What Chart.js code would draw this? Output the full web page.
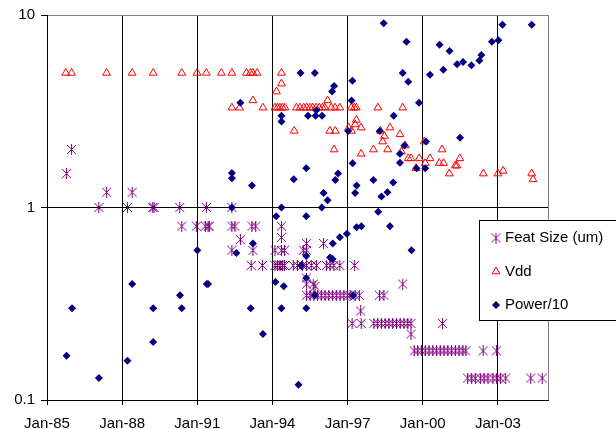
<!DOCTYPE html>
<html>
<head>
<meta charset="utf-8">
<script src="https://cdn.jsdelivr.net/npm/chart.js@4/dist/chart.umd.min.js"></script>
<style>
  body { margin: 0; background: #fff; }
  canvas { display: block; }
</style>
</head>
<body>
<canvas id="techChart" width="616" height="429"></canvas>
<script>
// x values are decimal years, y values on log axis
const xTicks = [1985, 1988, 1991, 1994, 1997, 2000, 2003];
const yTicks = [0.1, 1, 10];
const seriesNames = ["Feat Size (um)", "Vdd", "Power/10"];

const featX = [1985.78, 1985.98, 1987.07, 1987.38, 1988.21, 1988.40, 1989.22, 1989.27, 1990.30, 1990.38,
  1990.96, 1991.32, 1991.36, 1991.43, 1991.48, 1992.38, 1992.38, 1992.50, 1992.38, 1992.72,
  1993.15, 1993.18, 1993.22, 1993.33, 1993.60, 1994.10, 1994.10, 1994.20, 1994.30, 1994.36,
  1994.36, 1994.36, 1994.40, 1994.48, 1994.48, 1994.83, 1995.00, 1995.20, 1995.23, 1995.36,
  1995.36, 1995.36, 1995.36, 1995.36, 1995.36, 1995.50, 1995.55, 1995.63, 1995.65, 1995.70,
  1995.76, 1995.80, 1995.95, 1996.04, 1996.10, 1996.16, 1996.25, 1996.30, 1996.40, 1996.45,
  1996.55, 1996.69, 1996.70, 1996.85, 1997.00, 1997.10, 1997.18, 1997.28, 1997.30, 1997.47,
  1997.52, 1997.54, 1998.05, 1998.20, 1998.27, 1998.35, 1998.45, 1998.50, 1998.65, 1998.80,
  1998.95, 1999.10, 1999.20, 1999.25, 1999.40, 1999.53, 1999.53, 1999.66, 1999.80, 1999.95,
  2000.10, 2000.25, 2000.40, 2000.55, 2000.70, 2000.79, 2000.85, 2001.00, 2001.15, 2001.30,
  2001.45, 2001.60, 2001.72, 2001.79, 2001.95, 2002.10, 2002.30, 2002.41, 2002.45, 2002.60,
  2002.80, 2002.94, 2002.95, 2003.10, 2003.31, 2004.31, 2004.77];
const featY = [1.5, 2.0, 1.0, 1.2, 1.0, 1.2, 1.0, 1.0, 1.0, 0.8,
  0.8, 0.8, 1.0, 0.8, 0.8, 1.0, 0.8, 0.8, 0.6, 0.68,
  0.5, 0.8, 0.6, 0.8, 0.5, 0.6, 0.5, 0.5, 0.5, 0.8,
  0.7, 0.6, 0.5, 0.6, 0.5, 0.5, 0.5, 0.5, 0.6, 0.65,
  0.6, 0.5, 0.43, 0.4, 0.35, 0.35, 0.5, 0.4, 0.35, 0.39,
  0.5, 0.35, 0.35, 0.65, 0.35, 0.5, 0.35, 0.5, 0.35, 0.5,
  0.35, 0.5, 0.35, 0.35, 0.35, 0.35, 0.25, 0.5, 0.35, 0.35,
  0.29, 0.25, 0.25, 0.25, 0.35, 0.25, 0.35, 0.25, 0.25, 0.25,
  0.25, 0.25, 0.4, 0.25, 0.25, 0.25, 0.22, 0.18, 0.18, 0.18,
  0.18, 0.18, 0.18, 0.18, 0.18, 0.25, 0.18, 0.18, 0.18, 0.18,
  0.18, 0.18, 0.18, 0.13, 0.13, 0.13, 0.13, 0.18, 0.13, 0.13,
  0.13, 0.18, 0.13, 0.13, 0.13, 0.13, 0.13];

const vddX = [1985.75, 1985.98, 1987.38, 1988.40, 1989.24, 1990.38, 1990.99, 1991.36, 1991.96, 1992.38,
  1992.96, 1993.12, 1993.22, 1993.39, 1994.36,
  1992.38, 1992.69, 1993.62, 1994.10, 1994.20, 1994.30, 1994.40, 1994.50, 1994.96, 1995.10,
  1995.25, 1995.37, 1995.50, 1995.61, 1995.74, 1995.87, 1996.00, 1996.09, 1996.35, 1996.50,
  1996.69, 1997.15, 1997.27, 1997.35, 1998.21, 1999.20,
  1993.22, 1994.16, 1994.36, 1994.87, 1996.20, 1996.29, 1996.46, 1996.51, 1997.04, 1997.16,
  1997.30, 1997.35, 1997.54, 1997.54, 1998.03, 1998.31, 1998.40, 1998.47, 1998.60, 1998.69,
  1999.09, 1999.15, 1999.30, 1999.42, 1999.53, 1999.73, 1999.86, 2000.06, 2000.10, 2000.29,
  2000.66, 2000.77, 2000.83, 2001.06, 2001.30, 2001.36, 2001.48, 2002.42, 2003.00, 2003.21,
  2004.35, 2004.40];
const vddY = [5, 5, 5, 5, 5, 5, 5, 5, 5, 5,
  5, 5, 5, 5, 5,
  3.3, 3.3, 3.3, 3.3, 3.3, 3.3, 3.3, 3.3, 3.3, 3.3,
  3.3, 3.3, 3.3, 3.3, 3.3, 3.3, 3.3, 3.3, 3.3, 3.3,
  3.3, 3.3, 3.3, 3.3, 3.3, 3.3,
  3.6, 4.0, 4.4, 2.5, 3.6, 2.5, 2.0, 2.5, 2.6, 2.5,
  2.7, 2.85, 2.6, 1.9, 2.0, 2.5, 2.2, 2.35, 2.0, 2.6,
  2.4, 1.95, 2.1, 1.8, 1.8, 1.6, 1.8, 2.2, 1.7, 1.8,
  1.7, 2.0, 1.7, 1.5, 1.65, 1.65, 1.8, 1.5, 1.5, 1.55,
  1.5, 1.4];

const powX = [1985.78, 1986.00, 1987.07, 1988.21, 1988.40, 1989.24, 1989.24, 1990.31, 1990.38, 1991.00,
  1991.38, 1991.43, 1992.38, 1992.38, 1992.38, 1992.56, 1992.72, 1993.13, 1993.18, 1993.22,
  1993.62, 1994.12, 1994.15, 1994.36, 1994.36, 1994.36, 1994.36, 1994.45, 1994.85, 1995.04,
  1995.12, 1995.16, 1995.35, 1995.35, 1995.35, 1995.35, 1995.35, 1995.42, 1995.69, 1995.69,
  1995.72, 1995.75, 1995.97, 1995.98, 1996.04, 1996.20, 1996.30, 1996.38, 1996.40, 1996.41,
  1996.46, 1996.51, 1996.62, 1996.69, 1996.97, 1997.02, 1997.16, 1997.19, 1997.20, 1997.22,
  1997.30, 1997.36, 1997.36, 1997.55, 1998.03, 1998.22, 1998.28, 1998.35, 1998.44, 1998.59,
  1998.69, 1998.82, 1998.84, 1999.09, 1999.09, 1999.20, 1999.27, 1999.35, 1999.42, 1999.55,
  1999.75, 1999.85, 2000.10, 2000.13, 2000.29, 2000.67, 2000.82, 2001.07, 2001.37, 2001.49,
  2001.61, 2001.94, 2002.26, 2002.34, 2002.76, 2003.02, 2003.18, 2004.35];
const powY = [0.17, 0.30, 0.13, 0.16, 0.40, 0.30, 0.20, 0.35, 0.30, 0.60,
  0.40, 0.40, 1.0, 1.51, 1.42, 0.58, 3.5, 0.30, 1.30, 0.65,
  0.22, 0.41, 0.9, 1.0, 3.0, 2.8, 0.30, 0.39, 1.40, 0.12,
  5.0, 0.50, 1.6, 0.9, 0.56, 0.43, 0.30, 3.0, 5.0, 0.35,
  3.0, 3.2, 1.0, 3.0, 1.19, 1.09, 0.55, 4.0, 0.54, 0.65,
  4.28, 1.39, 1.5, 0.70, 0.73, 2.5, 3.6, 4.56, 1.7, 0.35,
  1.19, 1.3, 0.79, 0.80, 1.39, 0.95, 2.5, 1.14, 9.05, 1.2,
  0.80, 1.35, 3.0, 1.71, 1.9, 5.0, 2.1, 7.26, 4.5, 0.60,
  1.6, 3.5, 1.6, 2.2, 4.9, 7.0, 5.2, 6.5, 5.55, 2.3,
  5.7, 5.48, 5.8, 6.2, 7.26, 7.4, 8.9, 8.9];

const FONT = "'Liberation Sans', Arial, sans-serif";

function toPoints(xs, ys) {
  return xs.map((x, i) => ({ x: x, y: ys[i] }));
}

// asterisk marker like the spreadsheet one: an X with a vertical bar
function starMarker(color) {
  const c = document.createElement("canvas");
  c.width = 11;
  c.height = 11;
  const g = c.getContext("2d");
  g.strokeStyle = color;
  g.lineWidth = 1;
  g.beginPath();
  g.moveTo(1, 1); g.lineTo(10, 10);
  g.moveTo(10, 1); g.lineTo(1, 10);
  g.moveTo(5.5, 0); g.lineTo(5.5, 11);
  g.stroke();
  return c;
}

const boxLegend = {
  id: "boxLegend",
  afterDraw(chart) {
    const c = chart.ctx;
    c.save();
    c.fillStyle = "#fff";
    c.fillRect(479.5, 220.5, 140, 100);
    c.strokeStyle = "#000";
    c.lineWidth = 1;
    c.strokeRect(479.5, 220.5, 140, 100);
    chart.data.datasets.forEach(function (ds, i) {
      const y = 238 + i * 33.5;
      c.fillStyle = ds.backgroundColor;
      c.strokeStyle = ds.borderColor;
      c.lineWidth = ds.borderWidth;
      Chart.helpers.drawPoint(c, {
        pointStyle: ds.pointStyle,
        radius: ds.pointRadius,
        borderWidth: ds.borderWidth,
        rotation: 0
      }, 496, y);
      c.fillStyle = "#000";
      c.font = "15px " + FONT;
      c.textBaseline = "middle";
      c.fillText(seriesNames[i], 505, y);
    });
    c.restore();
  }
};

new Chart("techChart", {
  type: "scatter",
  data: {
    datasets: [
      {
        label: seriesNames[0],
        data: toPoints(featX, featY),
        pointStyle: starMarker("#800080"),
        pointRadius: 5,
        borderWidth: 1,
        borderColor: "#800080",
        backgroundColor: "#800080",
        order: 3
      },
      {
        label: seriesNames[1],
        data: toPoints(vddX, vddY),
        pointStyle: "triangle",
        pointRadius: 4.5,
        borderWidth: 1,
        borderColor: "#ff0000",
        backgroundColor: "rgba(0,0,0,0)",
        order: 2
      },
      {
        label: seriesNames[2],
        data: toPoints(powX, powY),
        pointStyle: "rectRot",
        pointRadius: 4,
        borderWidth: 0,
        borderColor: "#000080",
        backgroundColor: "#000080",
        order: 1
      }
    ]
  },
  options: {
    responsive: false,
    animation: false,
    layout: { padding: { top: 15, right: 68, left: 0, bottom: 0 } },
    plugins: {
      legend: { display: false },
      tooltip: { enabled: false }
    },
    scales: {
      x: {
        type: "linear",
        min: 1985,
        max: 2005,
        afterBuildTicks: function (s) {
          s.ticks = xTicks.concat([2005]).map(v => ({ value: v }));
        },
        afterFit: function (s) { s.height = 29; },
        ticks: {
          autoSkip: false,
          maxRotation: 0,
          padding: 10,
          color: "#000",
          font: { family: FONT, size: 15 },
          callback: v => (v === 2005 ? "" : "Jan-" + String(v).slice(2))
        },
        grid: {
          color: ctx => (ctx.tick && ctx.tick.value === 2005 ? "#808080" : "#000"),
          tickColor: ctx => (ctx.tick && ctx.tick.value === 2005 ? "rgba(0,0,0,0)" : "#000"),
          tickLength: 5,
          lineWidth: 1
        },
        border: { color: "#000", width: 1 }
      },
      y: {
        type: "logarithmic",
        min: 0.1,
        max: 10,
        afterBuildTicks: function (s) {
          s.ticks = yTicks.map(v => ({ value: v }));
        },
        afterFit: function (s) { s.width = 47; },
        ticks: {
          padding: 6,
          color: "#000",
          font: { family: FONT, size: 15 },
          callback: v => String(v)
        },
        grid: {
          color: ctx => (ctx.tick && ctx.tick.value === 10 ? "#808080" : "#000"),
          tickColor: "#000",
          tickLength: 6,
          lineWidth: 1
        },
        border: { color: "#000", width: 1 }
      }
    }
  },
  plugins: [boxLegend]
});
</script>
</body>
</html>
